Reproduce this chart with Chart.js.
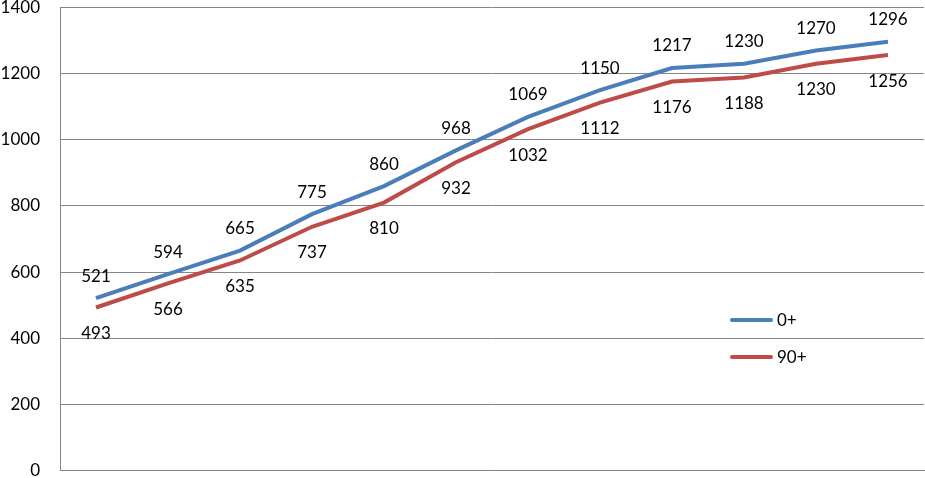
<!DOCTYPE html>
<html>
<head>
<meta charset="utf-8">
<script src="https://cdn.jsdelivr.net/npm/chart.js@4/dist/chart.umd.min.js"></script>
<style>
	html, body { margin: 0; padding: 0; background: #fff; overflow: hidden; }
	#wrap { position: relative; width: 925px; height: 478px; overflow: hidden; }
	#line-chart { position: absolute; left: 0; top: -13px; }
	.legend { position: absolute; left: 730px; font: 17px Lato, sans-serif; color: #000; display: flex; align-items: center; }
	.legend span.sw { display: inline-block; width: 43px; height: 4px; border-radius: 2px; margin-right: 4px; }
</style>
</head>
<body>
<div id="wrap">
	<canvas id="line-chart" width="925" height="504"></canvas>
	<div class="legend" style="top:309px"><span class="sw" style="background:#4A7EBB"></span>0+</div>
	<div class="legend" style="top:346px"><span class="sw" style="background:#BE4B48"></span>90+</div>
</div>
<script>
const categories = ["1", "2", "3", "4", "5", "6", "7", "8", "9", "10", "11", "12"];
const seriesNames = ["0+", "90+"];
const values0 = [521, 594, 665, 775, 860, 968, 1069, 1150, 1217, 1230, 1270, 1296];
const values90 = [493, 566, 635, 737, 810, 932, 1032, 1112, 1176, 1188, 1230, 1256];
const yTicks = [0, 200, 400, 600, 800, 1000, 1200, 1400];

const fontFamily = "Lato, sans-serif";

// draws the value next to every point: first series above, second below
const pointLabels = {
	id: "pointLabels",
	afterDatasetsDraw(chart) {
		const ctx = chart.ctx;
		ctx.save();
		ctx.font = "17px " + fontFamily;
		ctx.fillStyle = "#000";
		ctx.textAlign = "center";
		ctx.textBaseline = "middle";
		chart.data.datasets.forEach((ds, i) => {
			const meta = chart.getDatasetMeta(i);
			meta.data.forEach((pt, j) => {
				const dy = i === 0 ? -22 : 26;
				ctx.fillText(String(ds.data[j].y), pt.x, pt.y + dy);
			});
		});
		ctx.restore();
	}
};

const toPoints = arr => arr.map((v, i) => ({ x: i, y: v }));

const lineData = {
	labels: categories,
	datasets: [
		{
			label: seriesNames[0],
			borderColor: "#4A7EBB",
			backgroundColor: "#4A7EBB",
			borderWidth: 4,
			pointRadius: 0,
			data: toPoints(values0),
			tension: 0
		},
		{
			label: seriesNames[1],
			borderColor: "#BE4B48",
			backgroundColor: "#BE4B48",
			borderWidth: 4,
			pointRadius: 0,
			data: toPoints(values90),
			tension: 0
		}
	]
};

const lineOptions = {
	responsive: false,
	animation: false,
	layout: { autoPadding: false, padding: { top: 7, bottom: 7, right: 1, left: 0 } },
	plugins: {
		legend: { display: false },
		tooltip: { enabled: false }
	},
	scales: {
		x: {
			type: "linear",
			min: -0.5,
			max: categories.length - 0.5,
			ticks: { display: false },
			grid: { display: false },
			border: { color: "#868686", width: 1 },
			afterFit(scale) { scale.height = 0; }
		},
		y: {
			min: 0,
			max: 1400,
			afterBuildTicks(scale) { scale.ticks = yTicks.map(v => ({ value: v })); },
			ticks: {
				padding: 20,
				color: "#000",
				font: { family: fontFamily, size: 17, lineHeight: 0.05 },
				callback: v => String(v)
			},
			grid: { color: "#868686", drawTicks: false },
			border: { color: "#868686", width: 1 },
			afterFit(scale) { scale.width = 60; }
		}
	}
};

const lineContext = document.getElementById("line-chart").getContext("2d");
const lineChart = new Chart(lineContext, {
	type: "line",
	data: lineData,
	options: lineOptions,
	plugins: [pointLabels]
});
</script>
</body>
</html>
